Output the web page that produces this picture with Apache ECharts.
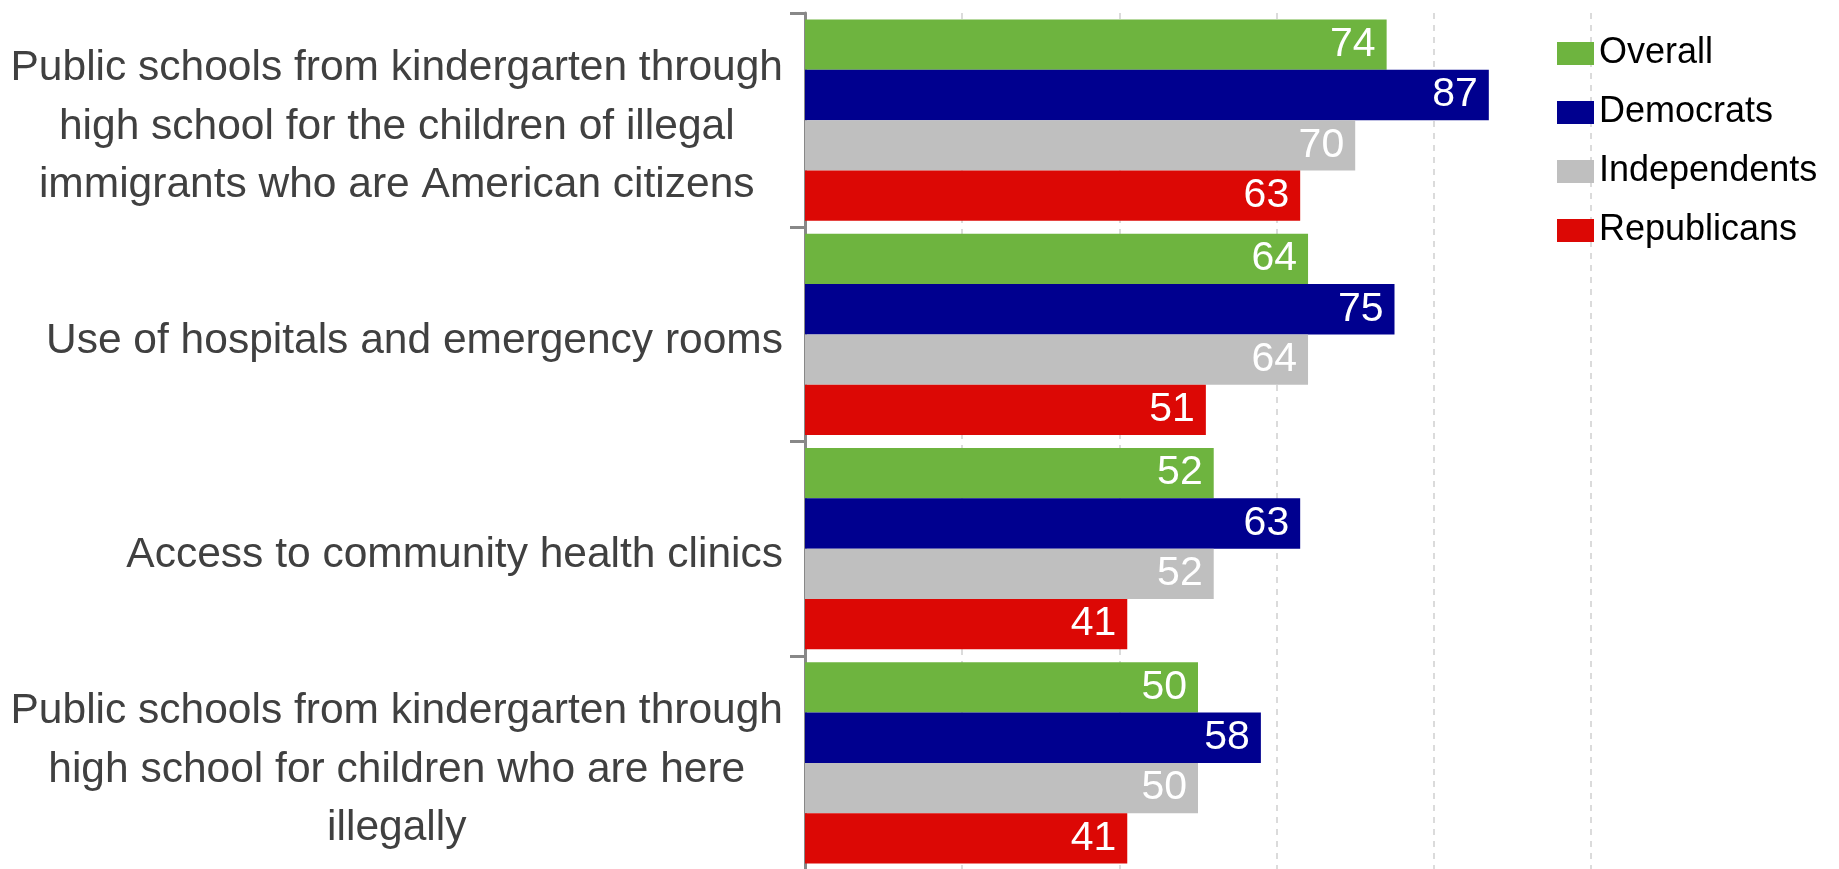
<!DOCTYPE html>
<html>
<head>
<meta charset="utf-8">
<script src="https://cdn.jsdelivr.net/npm/echarts@6/dist/echarts.min.js"></script>
<style>
html, body { margin: 0; padding: 0; background: #fff; }
#chart { width: 1839px; height: 869px; }
</style>
</head>
<body>
<div id="chart"></div>
<script>
// 数据
const categories = [
    'Public schools from kindergarten through\nhigh school for the children of illegal\nimmigrants who are American citizens',
    'Use of hospitals and emergency rooms',
    'Access to community health clinics',
    'Public schools from kindergarten through\nhigh school for children who are here\nillegally'
]
const names = ['Overall', 'Democrats', 'Independents', 'Republicans']
const overall = [74, 64, 52, 50]
const democrats = [87, 75, 63, 58]
const independents = [70, 64, 52, 50]
const republicans = [63, 51, 41, 41]
const xTicks = [0, 20, 40, 60, 80, 100]

const color = ['#6eb43f', '#00008f', '#bfbfbf', '#dc0805']
const values = [overall, democrats, independents, republicans]

const chart = echarts.init(document.getElementById('chart'), null, {renderer: 'canvas'})

function getSeries () {
    let seriesArr = []
    for (let i = 0; i < values.length; i++) {
        seriesArr.push({
            name: names[i],
            type: 'bar',
            data: values[i],
            barGap: '0%',
            barCategoryGap: '6%',
            itemStyle: { color: color[i] },
            label: {
                show: true,
                position: 'insideRight',
                distance: 11,
                color: '#fff',
                fontSize: 41,
                fontFamily: 'Liberation Sans, Arial, sans-serif'
            }
        })
    }
    return seriesArr
}

const option = {
    animation: false,
    color: color,
    grid: { left: 805, right: 248, top: 13, height: 857, containLabel: false, outerBoundsMode: 'none' },
    legend: {
        orient: 'vertical',
        left: 1552,
        top: 28,
        icon: 'rect',
        itemWidth: 37,
        itemHeight: 23,
        itemGap: 18,
        data: names,
        textStyle: {
            color: '#000',
            fontSize: 36,
            lineHeight: 41,
            fontFamily: 'Liberation Sans, Arial, sans-serif'
        }
    },
    xAxis: {
        type: 'value',
        min: xTicks[0],
        max: xTicks[xTicks.length - 1],
        interval: 20,
        axisLine: { show: false },
        axisTick: { show: false },
        axisLabel: { show: false },
        splitLine: { show: true, lineStyle: { type: [6, 6], color: '#d0d0d0', width: 1.5 } }
    },
    yAxis: {
        type: 'category',
        inverse: true,
        data: categories,
        axisLine: { show: true, lineStyle: { color: '#888', width: 3 } },
        axisTick: { show: true, length: 15, lineStyle: { color: '#888', width: 3 } },
        axisLabel: {
            margin: 22,
            align: 'right',
            padding: [14, 0, 0, 0],
            formatter: function (value) {
                return value.split('\n').map(function (s) { return '{c|' + s + '}' }).join('\n')
            },
            rich: {
                c: {
                    align: 'center',
                    color: '#404040',
                    fontSize: 42.5,
                    lineHeight: 58.6,
                    fontFamily: 'Liberation Sans, Arial, sans-serif'
                }
            }
        }
    },
    series: getSeries()
}
chart.setOption(option, true)
</script>
</body>
</html>
